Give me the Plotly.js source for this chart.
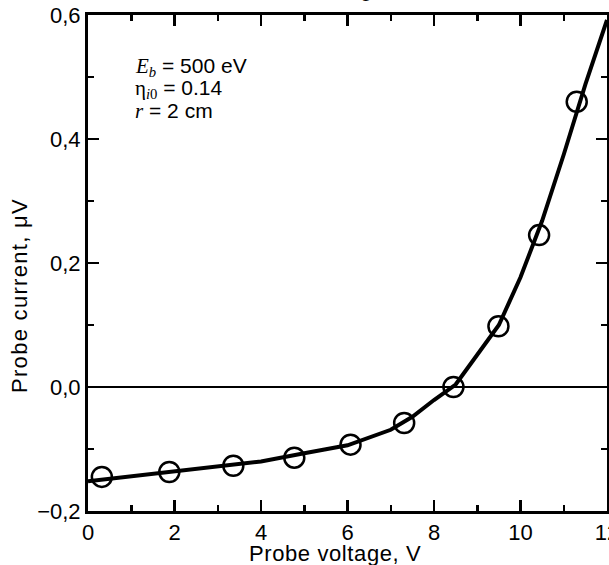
<!DOCTYPE html>
<html>
<head>
<meta charset="utf-8">
<script src="https://cdn.plot.ly/plotly-3.0.1.min.js"></script>
<style>
  html, body { margin: 0; padding: 0; background: #fff; }
  #chart { width: 609px; height: 565px; }
</style>
</head>
<body>
<div id="chart"></div>
<script>
// Measured probe characteristic (open circles)
const probeVoltage = [0.32, 1.88, 3.36, 4.77, 6.07, 7.31, 8.45, 9.49, 10.43, 11.30];
const probeCurrent = [-0.145, -0.137, -0.127, -0.114, -0.093, -0.058, 0.0, 0.098, 0.245, 0.46];

// Calculated characteristic (solid curve)
const calcVoltage = [0, 1, 2, 3, 4, 5, 6, 7, 7.5, 8, 8.5, 9, 9.5, 10, 10.5, 11, 11.5, 12];
const calcCurrent = [-0.152, -0.144, -0.136, -0.128, -0.120, -0.107, -0.094, -0.069, -0.048,
                     -0.021, 0.004, 0.052, 0.100, 0.177, 0.268, 0.375, 0.488, 0.592];

// Axis ticks
const xTickVals = [0, 2, 4, 6, 8, 10, 12];
const xTickText = ['0', '2', '4', '6', '8', '10', '12'];
const xMinorVals = [1, 3, 5, 7, 9, 11];
const yTickVals = [-0.2, 0, 0.2, 0.4, 0.6];
const yTickText = ['\u22120,2', '0,0', '0,2', '0,4', '0,6'];
const yMinorVals = [-0.1, 0.1, 0.3, 0.5];

const SANS = 'Liberation Sans, Arial, sans-serif';
const SERIF = "'Liberation Serif', 'Times New Roman', serif";
const it = s => `<span style="font-family:${SERIF};font-style:italic">${s}</span>`;
const serif = s => `<span style="font-family:${SERIF}">${s}</span>`;
const spaced = (s, px) => `<span style="letter-spacing:${px}px">${s}</span>`;

const axisBase = {
  showline: true, linecolor: '#000', linewidth: 3, mirror: 'ticks',
  ticks: 'inside', ticklen: 11, tickwidth: 2.5, tickcolor: '#000',
  tickmode: 'array', showgrid: false, ticklabeloverflow: 'allow',
  tickfont: { family: SANS, size: 22, color: '#000' }
};

const traces = [
  {
    x: calcVoltage, y: calcCurrent, type: 'scatter', mode: 'lines',
    line: { color: '#000', width: 4 }, hoverinfo: 'skip'
  },
  {
    x: probeVoltage, y: probeCurrent, type: 'scatter', mode: 'markers',
    marker: { symbol: 'circle-open', size: 20, color: '#000', line: { width: 2.5, color: '#000' } }
  }
];

const layout = {
  width: 609, height: 565,
  margin: { l: 88, r: 2, t: 15, b: 54 },
  paper_bgcolor: '#fff', plot_bgcolor: '#fff',
  showlegend: false,
  font: { family: SANS, color: '#000' },
  xaxis: Object.assign({}, axisBase, {
    range: [0, 12], zeroline: false,
    tickvals: xTickVals, ticktext: xTickText,
    minor: { tickmode: 'array', tickvals: xMinorVals, ticks: 'inside', ticklen: 6, tickwidth: 2.5, tickcolor: '#000' }
  }),
  yaxis: Object.assign({}, axisBase, {
    range: [-0.2, 0.6],
    zeroline: true, zerolinecolor: '#000', zerolinewidth: 2.5,
    tickvals: yTickVals, ticktext: yTickText,
    minor: { tickmode: 'array', tickvals: yMinorVals, ticks: 'inside', ticklen: 6, tickwidth: 2.5, tickcolor: '#000' }
  }),
  annotations: [
    { text: spaced('Probe voltage, V', 0.6), xref: 'paper', yref: 'paper', x: 0.476, y: -0.086,
      xanchor: 'center', yanchor: 'middle', showarrow: false, font: { size: 22 } },
    { text: spaced('Probe voltage, V', 0.6), xref: 'paper', yref: 'paper', x: 0.462, y: 1.053,
      xanchor: 'center', yanchor: 'middle', showarrow: false, font: { size: 22 } },
    { text: spaced('Probe current, \u03bcV', 1.3), xref: 'paper', yref: 'paper', x: -0.131, y: 0.4335,
      xanchor: 'center', yanchor: 'middle', textangle: -90, showarrow: false, font: { size: 22 } },
    { text: it('E') + '<sub>' + it('b') + '</sub> = 500 eV', xref: 'paper', yref: 'paper',
      x: 0.0867, y: 0.895, xanchor: 'left', yanchor: 'middle', showarrow: false, font: { size: 21 } },
    { text: serif('\u03b7') + '<sub>' + it('i') + serif('0') + '</sub> = 0.14',
      xref: 'paper', yref: 'paper',
      x: 0.0867, y: 0.851, xanchor: 'left', yanchor: 'middle', showarrow: false, font: { size: 21 } },
    { text: it('r') + ' = 2 cm', xref: 'paper', yref: 'paper',
      x: 0.0867, y: 0.806, xanchor: 'left', yanchor: 'middle', showarrow: false, font: { size: 21 } }
  ]
};

Plotly.newPlot('chart', traces, layout, { staticPlot: true, displayModeBar: false });
</script>
</body>
</html>
